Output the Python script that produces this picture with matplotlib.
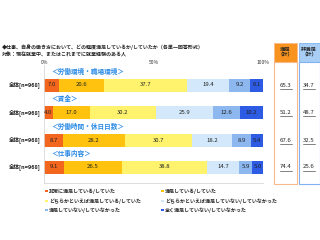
import matplotlib
matplotlib.use("Agg")
import matplotlib.pyplot as plt
from matplotlib.patches import Rectangle
import numpy as np

plt.rcParams['font.family'] = ['Noto Sans CJK JP', 'DejaVu Sans']

title1 = "◆仕事、自身の働き方において、どの程度満足しているか/していたか（各単一回答形式）"
title2 = "対象：現在就業中、またはこれまでに就業経験のある人"
sections = ["＜労働環境・職場環境＞", "＜賃金＞", "＜労働時間・休日日数＞", "＜仕事内容＞"]
row_label = "全体[n=968]"
categories = ["非常に満足している/していた", "満足している/していた",
              "どちらかといえば満足している/していた",
              "どちらかといえば満足していない/していなかった",
              "満足していない/していなかった", "全く満足していない/していなかった"]
v_very = [7.0, 4.0, 8.7, 9.1]
v_sat = [20.6, 17.0, 28.2, 26.5]
v_some = [37.7, 30.2, 30.7, 38.8]
v_somenot = [19.4, 25.9, 18.2, 14.7]
v_not = [9.2, 12.6, 8.9, 5.9]
v_none = [6.1, 10.2, 5.4, 5.0]
sat_total = [65.3, 51.2, 67.6, 74.4]
unsat_total = [34.7, 48.7, 32.5, 25.6]
ticks = [0, 50, 100]
tick_labels = ["0%", "50%", "100%"]

colors = ["#F2661E", "#FFC20E", "#FFF36E", "#D3E9FB", "#8DB7EF", "#2D5BE3"]
series = [v_very, v_sat, v_some, v_somenot, v_not, v_none]

W, H = 320, 240
fig = plt.figure(figsize=(3.2, 2.4), dpi=100)
fig.patch.set_facecolor("white")

x0, x1 = 44, 263
ax = fig.add_axes([x0 / W, 0, (x1 - x0) / W, 1])
ax.set_xlim(0, 100)
ax.set_ylim(240, 0)
ax.axis("off")

ycent = [85, 112.5, 140, 167]
bh = 13
left = np.zeros(4)
for vals, c in zip(series, colors):
    vals = np.array(vals)
    ax.barh(ycent, vals, left=left, height=bh, color=c, edgecolor="none")
    for yc, l, v in zip(ycent, left, vals):
        ax.text(l + v / 2, yc, f"{v:.1f}", ha="center", va="center",
                fontsize=4.3, color="#222222")
    left += vals

# frame
ax.plot([0, 0], [65, 183], color="#d8d8d8", lw=0.6, clip_on=False)
ax.plot([0, 100], [183, 183], color="#d8d8d8", lw=0.6, clip_on=False)

for t, tl in zip(ticks, tick_labels):
    ax.text(t, 63, tl, ha="center", va="center", fontsize=3.6, color="#333333")

for yc, s in zip(ycent, sections):
    ax.text(3.5, yc - 13.5, s, ha="left", va="center", fontsize=4.8,
            color="#2B8BE6", fontweight="bold")
    fig.text(41 / W, 1 - yc / H, row_label, ha="right", va="center",
             fontsize=4.0, fontweight="bold", color="#222222")

fig.text(2 / W, 1 - 47 / H, title1, ha="left", va="center", fontsize=3.6,
         fontweight="bold", color="#222222")
fig.text(2 / W, 1 - 55 / H, title2, ha="left", va="center", fontsize=3.6,
         fontweight="bold", color="#222222")

# right boxes
def box(xl, xr, head_col, edge_col, label, vals):
    fig.patches.append(Rectangle((xl / W, 1 - 62 / H), (xr - xl) / W, 19 / H,
                                 transform=fig.transFigure, facecolor=head_col,
                                 edgecolor=edge_col, lw=0.6))
    fig.patches.append(Rectangle((xl / W, 1 - 184 / H), (xr - xl) / W, 122 / H,
                                 transform=fig.transFigure, facecolor="white",
                                 edgecolor=edge_col, lw=0.8))
    xc = (xl + xr) / 2
    fig.text(xc / W, 1 - 52.5 / H, label, ha="center", va="center",
             fontsize=3.8, fontweight="bold", color="#222222", linespacing=1.2)
    for yc, v in zip(ycent, vals):
        fig.text(xc / W, 1 - yc / H, f"{v:.1f}", ha="center", va="center",
                 fontsize=4.3, color="#222222")
        fig.lines.append(plt.Line2D([(xc - 6) / W, (xc + 6) / W],
                                    [1 - (yc + 3.5) / H] * 2,
                                    transform=fig.transFigure,
                                    color="#222222", lw=0.4))

box(274, 297, "#F7931E", "#F9B98A", "満足\n（計）", sat_total)
box(298.5, 319.5, "#A8CEF5", "#7FB2EE", "非満足\n（計）", unsat_total)

# legend
leg_pos = [(45, 191), (45, 201), (45, 210), (161, 191), (161, 201), (161, 210)]
leg_order = [0, 2, 4, 1, 3, 5]
for (lx, ly), i in zip(leg_pos, leg_order):
    fig.patches.append(Rectangle((lx / W, 1 - (ly + 1.3) / H), 2.6 / W, 2.6 / H,
                                 transform=fig.transFigure,
                                 facecolor=colors[i], edgecolor="none"))
    fig.text((lx + 4) / W, 1 - ly / H, categories[i], ha="left", va="center",
             fontsize=3.6, fontweight="bold", color="#222222")

fig.savefig("out.png", dpi=100, facecolor="white")
